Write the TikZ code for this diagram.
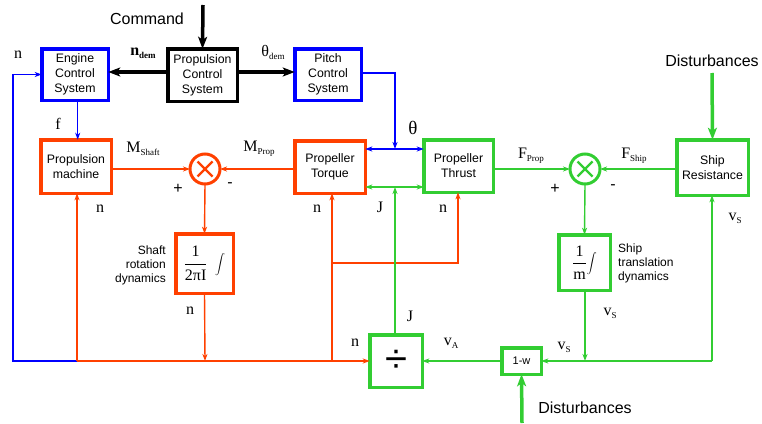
\documentclass[tikz,border=0pt]{standalone}
\usepackage{fontspec}
\setmainfont{Liberation Sans}
\newfontfamily\srf{Liberation Serif}
\usetikzlibrary{arrows.meta,calc}
\definecolor{cred}{RGB}{255,64,0}
\definecolor{cgreen}{RGB}{50,205,50}
\definecolor{cblue}{RGB}{0,0,255}
\newcommand{\sbs}[1]{\raisebox{-3pt}{\fontsize{9}{9}\selectfont #1}}
\begin{document}
\begin{tikzpicture}[x=1pt,y=-1pt,
  box/.style={draw,line width=3.5pt,inner sep=0pt,outer sep=0pt,align=center,
     font=\fontsize{12.3}{15}\selectfont},
  bluebox/.style={box,draw=cblue},
  blackbox/.style={box,draw=black},
  redbox/.style={box,draw=cred},
  greenbox/.style={box,draw=cgreen},
  sumnode/.style={circle,line width=3pt,minimum size=30pt,inner sep=0pt,outer sep=0pt,
     path picture={\draw[line width=2.2pt,#1]
        ($(path picture bounding box.center)+(-7.5,-7.5)$)--($(path picture bounding box.center)+(7.5,7.5)$)
        ($(path picture bounding box.center)+(-7.5,7.5)$)--($(path picture bounding box.center)+(7.5,-7.5)$);}},
  conn/.style={line width=1.4pt,-{Stealth[length=7pt,width=5pt,inset=2pt]}},
  bicon/.style={line width=1.4pt,{Stealth[length=7pt,width=5pt,inset=2pt]}-{Stealth[length=7pt,width=5pt,inset=2pt]}},
  thick arr/.style={line width=3.5pt,-{Stealth[length=12pt,width=9pt,inset=3pt]}},
  lab/.style={font=\srf\fontsize{16}{16}\selectfont,inner sep=0pt},
  pm/.style={font=\fontsize{16}{16}\selectfont,inner sep=0pt},
  side/.style={font=\fontsize{12}{14}\selectfont,inner sep=0pt},
  big/.style={font=\fontsize{16}{16}\selectfont,inner sep=0pt}
]
\useasboundingbox (0,0) rectangle (762,423);

% boxes
\node[bluebox,minimum width=66.5pt,minimum height=51.5pt] (ecs) at (75,74.5) {Engine\\Control\\System};
\node[blackbox,minimum width=69.5pt,minimum height=52.5pt] (pcs) at (202.5,75) {Propulsion\\Control\\System};
\node[bluebox,minimum width=66.5pt,minimum height=51.5pt] (pitch) at (328,74.5) {Pitch\\Control\\System};
\node[redbox,minimum width=70.5pt,minimum height=53.5pt] (pmach) at (76,166.5) {Propulsion\\machine};
\node[sumnode=cred,draw=cred] (sumr) at (205,169) {};
\node[redbox,minimum width=70.5pt,minimum height=52.5pt] (ptq) at (330,167) {Propeller\\Torque};
\node[redbox,minimum width=57.5pt,minimum height=59.5pt,font=\srf\fontsize{16}{16}\selectfont] (srd) at (204.5,263.5)
  {$\displaystyle\frac{\hbox{\srf 1}}{\hbox{\srf 2πI}}\;\int$};
\node[greenbox,minimum width=69.5pt,minimum height=52.5pt] (thr) at (458.5,166) {Propeller\\Thrust};
\node[sumnode=cgreen,draw=cgreen] (sumg) at (585,169) {};
\node[greenbox,minimum width=71.5pt,minimum height=55.5pt] (sres) at (712.5,167.5) {Ship\\Resistance};
\node[greenbox,minimum width=51.5pt,minimum height=55.5pt,font=\srf\fontsize{16}{16}\selectfont] (std) at (584.5,262.5)
  {$\displaystyle\frac{\hbox{\srf 1}}{\hbox{\srf m}}\!\int$};
\node[greenbox,minimum width=52.5pt,minimum height=52.5pt,font=\fontsize{40}{40}\selectfont] (dv) at (396,361) {÷};
\node[greenbox,minimum width=39.5pt,minimum height=26.5pt,font=\fontsize{11}{11}\selectfont] (onew) at (521.5,361) {1-w};

% coordinates
\coordinate (cmdtop) at (203,5);
\coordinate (bt) at (395,73);
\coordinate (tb) at (395,149);
\coordinate (jb) at (395,187);
\coordinate (nj1) at (77,361);
\coordinate (nj2) at (332,361);
\coordinate (nm) at (205,361);
\coordinate (fbl) at (13,361);
\coordinate (nb) at (332,263);
\coordinate (nb2) at (458,263);
\coordinate (gj1) at (585,361);
\coordinate (gj2) at (712,361);
\coordinate (dtop) at (712,73);
\coordinate (dbot) at (522,423);

% black command paths
\draw[thick arr] (cmdtop) -- (pcs.north);
\draw[thick arr] (pcs.west |- 0,72) -- (ecs.east |- 0,72);
\draw[thick arr] (pcs.east |- 0,72) -- (pitch.west |- 0,72);

% blue paths
\draw[conn,cblue] (pitch.east |- bt) -- (bt) -- (tb);
\draw[bicon,cblue] (ptq.east |- tb) -- (thr.west |- tb);
\draw[conn,cblue] (nj1) -- (fbl) |- (ecs.west);
\draw[conn,cblue] (ecs.south -| 77.7,0) -- (pmach.north -| 77.7,0);

% red paths
\draw[conn,cred] (pmach.east |- sumr) -- (sumr.west);
\draw[conn,cred] (ptq.west |- sumr) -- (sumr.east);
\draw[conn,cred] (sumr.south) -- (srd.north);
\draw[conn,cred] (srd.south) -- (nm);
\draw[conn,cred] (nj1) -- (dv.west);
\draw[conn,cred] (nj1) -- (nj1 |- pmach.south);
\draw[conn,cred] (nj2) -- (nj2 |- ptq.south);
\draw[conn,cred] (nb) -- (nb2) -- (nb2 |- thr.south);

% green paths
\draw[bicon,cgreen] (ptq.east |- jb) -- (thr.west |- jb);
\draw[conn,cgreen] (dv.north -| jb) -- (jb);
\draw[conn,cgreen] (thr.east |- sumg) -- (sumg.west);
\draw[conn,cgreen] (sres.west |- sumg) -- (sumg.east);
\draw[conn,cgreen] (sumg.south) -- (std.north);
\draw[conn,cgreen] (std.south -| gj1) -- (gj1);
\draw[conn,cgreen] (gj2) -- (onew.east);
\draw[conn,cgreen] (gj2) -- (gj2 |- sres.south);
\draw[conn,cgreen] (onew.west) -- (dv.east);
\draw[thick arr,cgreen] (dtop) -- (sres.north);
\draw[thick arr,cgreen] (dbot) -- (onew.south);

% texts
\node[big] (tcmd) at (147,19) {Command};
\node[big] (tdist1) at (712,61) {Disturbances};
\node[big] (tdist2) at (585,408) {Disturbances};
\node[lab] (tndem) at (143,53) {\textbf{n}\sbs{\textbf{dem}}};
\node[lab] (tthdem) at (273,52) {θ\sbs{dem}};
\node[lab] (tn0) at (18,55) {n};
\node[lab] (tf) at (58,124) {f};
\node[lab] (tms) at (143,149) {M\sbs{Shaft}};
\node[lab] (tmp) at (259,149) {M\sbs{Prop}};
\node[pm] (tp1) at (178,189) {+};
\node[pm] (tm1) at (230,185) {-};
\node[lab] (tn1) at (100,209) {n};
\node[lab] (tn2) at (317,209) {n};
\node[lab] (tn3) at (443,209) {n};
\node[lab] (tj1) at (380,207) {J};
\node[lab,font=\srf\fontsize{19}{19}\selectfont] (tth) at (413,128) {θ};
\node[lab] (tfp) at (531,156) {F\sbs{Prop}};
\node[lab] (tfs) at (634,156) {F\sbs{Ship}};
\node[pm] (tp2) at (555,189) {+};
\node[pm] (tm2) at (613,187) {-};
\node[side,align=right,anchor=east] (tsrd) at (166,265) {Shaft\\rotation\\dynamics};
\node[side,align=left,anchor=west] (tstd) at (618,263) {Ship\\translation\\dynamics};
\node[lab] (tn4) at (190,311) {n};
\node[lab] (tvs1) at (610,313) {v\sbs{S}};
\node[lab] (tvs2) at (735,218) {v\sbs{S}};
\node[lab] (tvs3) at (564,347) {v\sbs{S}};
\node[lab] (tva) at (451,343) {v\sbs{A}};
\node[lab] (tn5) at (355,343) {n};
\node[lab] (tj2) at (410,316) {J};
\end{tikzpicture}
\end{document}
